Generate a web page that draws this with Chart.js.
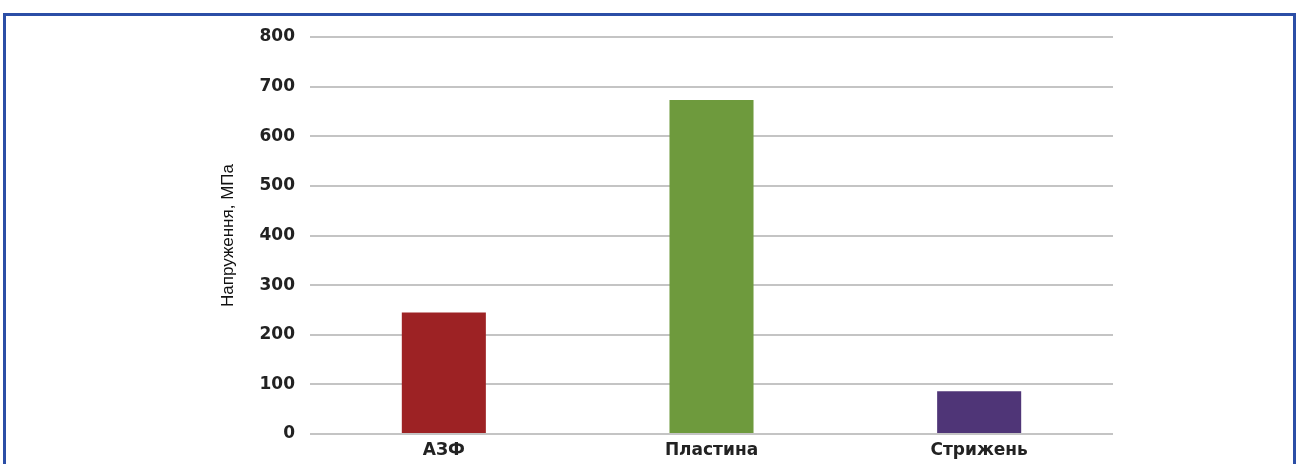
<!DOCTYPE html>
<html>
<head>
<meta charset="utf-8">
<script src="https://cdn.jsdelivr.net/npm/chart.js@4/dist/chart.umd.min.js"></script>
<style>
html,body{margin:0;padding:0;background:#fff;width:1298px;height:464px;overflow:hidden;}
#frame{position:absolute;left:3px;top:13px;width:1287px;height:600px;border:3px solid #2b4ea6;box-sizing:content-box;}
#wrap{position:absolute;left:0;top:0;width:1298px;height:464px;}
</style>
</head>
<body>
<div id="frame"></div>
<div id="wrap"><canvas id="c" width="1298" height="464"></canvas></div>
<script>
const categories = ["АЗФ", "Пластина", "Стрижень"];
const values = [245, 673, 86];
const barColors = ["#9d2224", "#6e9a3d", "#4f3577"];
const yTitle = "Напруження, МПа";
const yMin = 0, yMax = 800, yStep = 100;

new Chart(document.getElementById('c'), {
  type: 'bar',
  data: {
    labels: categories,
    datasets: [{
      data: values,
      backgroundColor: barColors,
      borderWidth: 0,
      categoryPercentage: 1,
      barPercentage: 0.314
    }]
  },
  options: {
    responsive: false,
    animation: false,
    devicePixelRatio: 1,
    layout: { padding: { top: 37, right: 185, bottom: 0, left: 0 } },
    plugins: { legend: { display: false }, tooltip: { enabled: false } },
    scales: {
      x: {
        grid: { display: false, drawTicks: false },
        border: { display: false },
        ticks: { color: '#222', padding: 6, font: { family: 'DejaVu Sans', size: 17, weight: 'bold' } },
        afterFit: s => { s.height = 30; }
      },
      y: {
        min: yMin, max: yMax,
        grid: { color: '#c4c4c4', lineWidth: 2, drawTicks: false },
        border: { display: false },
        ticks: { stepSize: yStep, color: '#222', padding: 15, font: { family: 'DejaVu Sans', size: 17, weight: 'bold' } },
        title: {
          display: true, text: yTitle, color: '#111',
          font: { family: "'Liberation Sans', Arial, sans-serif", size: 17, weight: 'normal' },
          padding: { top: 218, bottom: 0 }
        },
        afterFit: s => { s.width = 310; }
      }
    }
  }
});
</script>
</body>
</html>
